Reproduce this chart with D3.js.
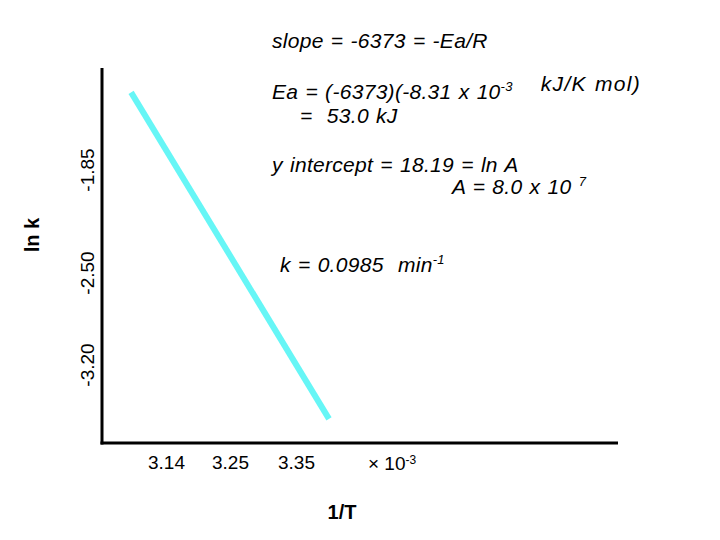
<!DOCTYPE html>
<html>
<head>
<meta charset="utf-8">
<script src="https://cdn.jsdelivr.net/npm/d3@7"></script>
<style>
  body { margin: 0; background: #fff; }
  svg { display: block; }
  .note { font-family: "Liberation Sans", sans-serif; font-style: italic; font-size: 21px; word-spacing: 1px; letter-spacing: 0.3px; white-space: pre; }
  .tick-lbl { font-family: "Liberation Sans", Arial, sans-serif; font-size: 19px; }
  .ax-title { font-family: "Liberation Sans", Arial, sans-serif; font-size: 20px; font-weight: bold; }
</style>
</head>
<body>
<svg width="720" height="540"></svg>
<script>
// tick labels (1/T in units of 10^-3, ln k)
var xTicks = [3.14, 3.25, 3.35];
var yTicks = [-3.20, -2.50, -1.85];

// fitted line end points
var invT = [3.08, 3.40];
var lnK = [-1.36, -3.61];

var svg = d3.select('svg');

// axis frame
var axisLeft = 102, axisRight = 618, axisTop = 68, axisBottom = 443;

// ticks are not evenly spaced in the original, so piecewise scales
var x = d3.scaleLinear().domain(xTicks).range([166, 230, 296]);
var y = d3.scaleLinear().domain(yTicks).range([365, 273, 170]);

var fmt = d3.formatLocale({decimal: '.', thousands: ',', grouping: [3], currency: ['', ''], minus: '-'}).format('.2f');

svg.append('line')
    .attr('x1', axisLeft).attr('x2', axisLeft)
    .attr('y1', axisTop).attr('y2', axisBottom + 1.5)
    .attr('stroke', '#000').attr('stroke-width', 3);
svg.append('line')
    .attr('x1', axisLeft - 1.5).attr('x2', axisRight)
    .attr('y1', axisBottom).attr('y2', axisBottom)
    .attr('stroke', '#000').attr('stroke-width', 3);

// x tick labels
var xAxis = svg.append('g')
    .attr('transform', 'translate(0,' + axisBottom + ')')
    .call(d3.axisBottom(x).tickValues(xTicks).tickSize(0).tickPadding(13).tickFormat(fmt));
xAxis.select('.domain').remove();
xAxis.selectAll('text').attr('class', 'tick-lbl').attr('fill', '#000');
xAxis.attr('font-size', null).attr('font-family', null);

var mult = svg.append('text')
    .attr('class', 'tick-lbl')
    .attr('x', 368).attr('y', 470);
mult.append('tspan').text('\u00d7 10');
mult.append('tspan').attr('dy', -6).style('font-size', '12px').text('-3');

// y tick labels, rotated
svg.selectAll('.ylbl')
    .data(yTicks)
    .enter()
    .append('text')
    .attr('class', 'tick-lbl ylbl')
    .attr('text-anchor', 'middle')
    .attr('transform', function(d) { return 'translate(94,' + y(d) + ') rotate(-90)'; })
    .text(fmt);

// axis titles
svg.append('text')
    .attr('class', 'ax-title')
    .attr('text-anchor', 'middle')
    .attr('transform', 'translate(39,235) rotate(-90)')
    .text('ln k');
svg.append('text')
    .attr('class', 'ax-title')
    .attr('text-anchor', 'middle')
    .attr('x', 342).attr('y', 519)
    .text('1/T');

// the fitted line
var pts = d3.zip(invT, lnK);
svg.append('path')
    .datum(pts)
    .attr('d', d3.line().x(function(d) { return x(d[0]); }).y(function(d) { return y(d[1]); }))
    .attr('stroke', '#66f6f6')
    .attr('stroke-width', 6)
    .attr('fill', 'none');

// annotations
function note(px, py, parts) {
    var t = svg.append('text').attr('class', 'note').attr('x', px).attr('y', py);
    parts.forEach(function(p) {
        if (typeof p === 'string') {
            t.append('tspan').text(p);
        } else if (p.sup) {
            t.append('tspan').attr('dy', -8).style('font-size', '13px').text(p.sup);
            t.append('tspan').attr('dy', 8).text('');
        } else {
            t.append('tspan').attr('dx', p.dx).style('letter-spacing', p.ls).text(p.txt);
        }
    });
    return t;
}

note(272, 48, ['slope = -6373 = -Ea/R']);
note(272, 99, ['Ea = (-6373)(-8.31 x 10', {sup: '-3'}, {txt: 'kJ/K mol)', dx: 28, ls: '1.3px'}]);
note(300, 123, ['=  53.0 kJ']);
note(272, 172, ['y intercept = 18.19 = ln A']);
note(452, 194, ['A = 8.0 x 10 ', {sup: '7'}]);
note(280, 272, ['k = 0.0985  min', {sup: '-1'}]);
</script>
</body>
</html>
